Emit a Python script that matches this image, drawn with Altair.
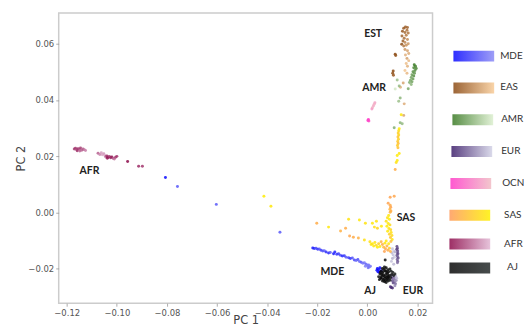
import altair as alt
import pandas as pd

# ---- data (x = PC 1, y = PC 2, s = shade within population 0=dark..1=light) ----
MDE = [(-0.0806, 0.0124, 0.0), (-0.0758, 0.0092, 0.6), (-0.0603, 0.0028, 0.6), (-0.0349, -0.0071, 0.6),
       (-0.0218, -0.0127, 0.1), (-0.0212, -0.0129, 0.2), (-0.0205, -0.0128, 0.5), (-0.0198, -0.0132, 0.3),
       (-0.0192, -0.0131, 0.6), (-0.0185, -0.0135, 0.4), (-0.0178, -0.0138, 0.5), (-0.0172, -0.0137, 0.7),
       (-0.0165, -0.0142, 0.3), (-0.0155, -0.0145, 0.2), (-0.0148, -0.0143, 0.6), (-0.0135, -0.0148, 0.1),
       (-0.0130, -0.0142, 0.2), (-0.0122, -0.0150, 0.3), (-0.0115, -0.0148, 0.4), (-0.0108, -0.0153, 0.5),
       (-0.0100, -0.0156, 0.2), (-0.0092, -0.0155, 0.35), (-0.0085, -0.0160, 0.6), (-0.0075, -0.0162, 0.4),
       (-0.0068, -0.0165, 0.3), (-0.0060, -0.0163, 0.55), (-0.0052, -0.0170, 0.45), (-0.0045, -0.0172, 0.7),
       (-0.0038, -0.0168, 0.5), (-0.0032, -0.0175, 0.75), (-0.0025, -0.0178, 0.6), (-0.0018, -0.0182, 0.8),
       (-0.0012, -0.0180, 0.85), (-0.0005, -0.0185, 0.7), (0.0000, -0.0190, 0.9), (0.0005, -0.0188, 0.8),
       (0.0008, -0.0195, 0.95), (0.0012, -0.0192, 0.85), (-0.0008, -0.0192, 0.9), (0.0003, -0.0198, 0.75),
       (0.0040, -0.0200, 0.0), (0.0045, -0.0205, 0.05), (0.0050, -0.0198, 0.0), (0.0042, -0.0212, 0.1),
       (0.0055, -0.0208, 0.05), (0.0038, -0.0207, 0.0), (0.0047, -0.0214, 0.05)]

EAS = [(0.0145, 0.0655, 0.1), (0.0152, 0.0660, 0.15), (0.0160, 0.0658, 0.2), (0.0140, 0.0645, 0.1),
       (0.0150, 0.0640, 0.25), (0.0158, 0.0648, 0.3), (0.0163, 0.0638, 0.35), (0.0138, 0.0628, 0.2),
       (0.0147, 0.0620, 0.3), (0.0155, 0.0630, 0.4), (0.0142, 0.0610, 0.15), (0.0150, 0.0605, 0.45),
       (0.0160, 0.0615, 0.5), (0.0137, 0.0598, 0.05), (0.0145, 0.0592, 0.35), (0.0155, 0.0595, 0.55),
       (0.0163, 0.0600, 0.6), (0.0150, 0.0580, 0.6), (0.0160, 0.0575, 0.7), (0.0165, 0.0565, 0.75),
       (0.0152, 0.0560, 0.8), (0.0158, 0.0548, 0.65), (0.0165, 0.0540, 0.85), (0.0155, 0.0530, 0.9),
       (0.0160, 0.0520, 0.8), (0.0150, 0.0505, 0.95), (0.0158, 0.0495, 0.85),
       (0.0111, 0.0563, 0.0), (0.0113, 0.0558, 0.05), (0.0103, 0.0503, 0.0), (0.0101, 0.0495, 0.05),
       (0.0104, 0.0488, 0.1), (0.0143, 0.0460, 0.7), (0.0132, 0.0445, 0.8), (0.0147, 0.0386, 0.75),
       (0.0145, 0.0345, 0.7)]

AMR = [(0.0187, 0.0525, 0.0), (0.0192, 0.0520, 0.05), (0.0185, 0.0515, 0.1), (0.0195, 0.0512, 0.1),
       (0.0190, 0.0505, 0.15), (0.0182, 0.0500, 0.2), (0.0188, 0.0495, 0.25), (0.0178, 0.0490, 0.3),
       (0.0185, 0.0485, 0.2), (0.0175, 0.0480, 0.35), (0.0182, 0.0475, 0.3), (0.0172, 0.0470, 0.4),
       (0.0178, 0.0465, 0.35), (0.0168, 0.0462, 0.45), (0.0175, 0.0455, 0.5), (0.0163, 0.0440, 0.4),
       (0.0119, 0.0471, 0.6), (0.0127, 0.0450, 0.55), (0.0131, 0.0407, 0.5), (0.0111, 0.0439, 0.95),
       (0.0107, 0.0301, 0.45), (0.0131, 0.0319, 0.5), (0.0139, 0.0315, 0.55), (0.0125, 0.0395, 0.6)]

EUR = [(0.0118, -0.0122, 0.2), (0.0120, -0.0128, 0.3), (0.0117, -0.0133, 0.15), (0.0121, -0.0138, 0.25),
       (0.0119, -0.0143, 0.35), (0.0122, -0.0148, 0.2), (0.0118, -0.0153, 0.3), (0.0120, -0.0158, 0.4),
       (0.0123, -0.0163, 0.25), (0.0119, -0.0168, 0.35), (0.0121, -0.0175, 0.3), (0.0120, -0.0180, 0.45),
       (0.0100, -0.0130, 0.9), (0.0105, -0.0138, 0.95), (0.0098, -0.0145, 0.85), (0.0103, -0.0152, 0.9),
       (0.0108, -0.0160, 0.95), (0.0100, -0.0165, 0.8), (0.0096, -0.0175, 0.9), (0.0105, -0.0185, 0.85),
       (0.0110, -0.0142, 0.8),
       (0.0095, -0.0225, 0.5), (0.0102, -0.0228, 0.6), (0.0108, -0.0232, 0.4), (0.0098, -0.0235, 0.3),
       (0.0105, -0.0240, 0.45), (0.0112, -0.0237, 0.55), (0.0100, -0.0245, 0.35), (0.0108, -0.0248, 0.5),
       (0.0115, -0.0243, 0.6), (0.0103, -0.0252, 0.25), (0.0112, -0.0255, 0.4), (0.0095, -0.0268, 0.0),
       (0.0100, -0.0270, 0.05), (0.0092, -0.0265, 0.1), (0.0110, -0.0262, 0.6), (0.0113, -0.0228, 0.85),
       (0.0117, -0.0235, 0.9)]

OCN = [(0.0030, 0.0390, 0.8), (0.0027, 0.0385, 0.9), (0.0024, 0.0378, 0.85), (0.0020, 0.0372, 0.95),
       (0.0018, 0.0368, 0.75), (0.0004, 0.0330, 0.0), (0.0002, 0.0327, 0.05), (0.0006, 0.0325, 0.1)]

SAS = [(0.0135, 0.0347, 0.9), (0.0127, 0.0297, 0.95), (0.0125, 0.0290, 0.8), (0.0123, 0.0282, 0.6),
       (0.0125, 0.0275, 0.7), (0.0122, 0.0268, 0.5), (0.0124, 0.0260, 0.65), (0.0121, 0.0252, 0.55),
       (0.0123, 0.0245, 0.4), (0.0120, 0.0238, 0.6), (0.0122, 0.0230, 0.45), (0.0127, 0.0209, 0.9),
       (0.0119, 0.0202, 0.95), (0.0119, 0.0184, 0.9), (0.0115, 0.0177, 0.85), (0.0111, 0.0152, 0.2),
       (0.0091, 0.0053, 0.1), (0.0107, 0.0057, 0.15), (0.0083, 0.0032, 0.1), (0.0091, 0.0025, 0.2),
       (0.0093, 0.0018, 0.1), (0.0090, 0.0011, 0.3), (0.0094, 0.0004, 0.2), (0.0091, 0.0000, 0.25),
       (0.0085, -0.0012, 0.9), (0.0080, -0.0020, 0.85), (0.0088, -0.0025, 0.95), (0.0075, -0.0032, 0.8),
       (0.0083, -0.0040, 0.9), (0.0090, -0.0045, 0.75), (0.0078, -0.0050, 0.95), (0.0086, -0.0058, 0.85),
       (0.0093, -0.0062, 0.7), (0.0081, -0.0068, 0.9), (0.0095, -0.0072, 0.8), (0.0088, -0.0078, 0.6),
       (0.0098, -0.0083, 0.75), (0.0092, -0.0090, 0.5), (0.0099, -0.0097, 0.85), (0.0094, -0.0104, 0.4),
       (-0.0202, -0.0039, 0.2), (-0.0155, -0.0053, 0.9), (-0.0107, -0.0067, 0.25), (-0.0087, -0.0057, 0.2),
       (-0.0075, -0.0025, 0.85), (-0.0071, -0.0085, 0.15), (-0.0056, -0.0089, 0.2), (-0.0036, -0.0092, 0.25),
       (-0.0012, -0.0099, 0.8), (-0.0032, -0.0028, 0.9), (-0.0008, -0.0039, 0.85), (0.0020, -0.0039, 0.9),
       (0.0036, -0.0032, 0.85), (0.0028, -0.0053, 0.8), (0.0040, -0.0057, 0.7), (0.0056, -0.0050, 0.9),
       (0.0010, -0.0105, 0.8), (0.0020, -0.0112, 0.9), (0.0030, -0.0108, 0.85), (0.0035, -0.0118, 0.75),
       (0.0045, -0.0112, 0.6), (0.0050, -0.0122, 0.9), (0.0055, -0.0105, 0.3), (0.0060, -0.0115, 0.2),
       (0.0065, -0.0125, 0.4), (0.0070, -0.0110, 0.85), (0.0072, -0.0130, 0.15), (0.0078, -0.0120, 0.3),
       (0.0082, -0.0135, 0.2), (0.0085, -0.0112, 0.9), (0.0088, -0.0128, 0.5), (0.0092, -0.0140, 0.25),
       (0.0040, -0.0125, 0.95), (0.0025, -0.0120, 0.9), (0.0015, -0.0115, 0.85), (0.0068, -0.0140, 0.1),
       (0.0075, -0.0102, 0.9), (-0.0413, 0.0057, 0.95), (-0.0385, 0.0021, 0.9)]

AFR = [(-0.1170, 0.0225, 0.3), (-0.1165, 0.0228, 0.25), (-0.1160, 0.0222, 0.35), (-0.1155, 0.0226, 0.2),
       (-0.1150, 0.0224, 0.4), (-0.1145, 0.0229, 0.3), (-0.1140, 0.0221, 0.5), (-0.1135, 0.0225, 0.45),
       (-0.1130, 0.0223, 0.6), (-0.1125, 0.0220, 0.7), (-0.1158, 0.0219, 0.3), (-0.1148, 0.0218, 0.55),
       (-0.1075, 0.0210, 0.5), (-0.1068, 0.0206, 0.7), (-0.1062, 0.0212, 0.85), (-0.1058, 0.0205, 0.9),
       (-0.1052, 0.0208, 0.8), (-0.1048, 0.0202, 0.95), (-0.1045, 0.0198, 0.6), (-0.1040, 0.0200, 0.2),
       (-0.1035, 0.0196, 0.1), (-0.1030, 0.0199, 0.3), (-0.1025, 0.0194, 0.15), (-0.1020, 0.0197, 0.05),
       (-0.1015, 0.0192, 0.4), (-0.1010, 0.0190, 0.6), (-0.1005, 0.0196, 0.3), (-0.1000, 0.0199, 0.25),
       (-0.1038, 0.0192, 0.1), (-0.0957, 0.0181, 0.0), (-0.0913, 0.0164, 0.2), (-0.0898, 0.0164, 0.25)]

AJ = [(0.0071, -0.0170, 0.2), (0.0060, -0.0200, 0.1), (0.0068, -0.0195, 0.3), (0.0075, -0.0198, 0.0),
      (0.0082, -0.0205, 0.2), (0.0090, -0.0202, 0.4), (0.0055, -0.0210, 0.1), (0.0063, -0.0212, 0.0),
      (0.0070, -0.0208, 0.3), (0.0078, -0.0215, 0.1), (0.0085, -0.0212, 0.0), (0.0095, -0.0210, 0.5),
      (0.0102, -0.0215, 0.6), (0.0050, -0.0220, 0.2), (0.0058, -0.0222, 0.0), (0.0065, -0.0225, 0.1),
      (0.0073, -0.0222, 0.0), (0.0080, -0.0228, 0.2), (0.0088, -0.0225, 0.1), (0.0097, -0.0222, 0.3),
      (0.0105, -0.0225, 0.5), (0.0045, -0.0230, 0.3), (0.0055, -0.0233, 0.0), (0.0062, -0.0238, 0.1),
      (0.0070, -0.0235, 0.0), (0.0078, -0.0240, 0.2), (0.0086, -0.0236, 0.1), (0.0093, -0.0232, 0.4),
      (0.0060, -0.0245, 0.2), (0.0068, -0.0248, 0.1), (0.0075, -0.0250, 0.0), (0.0083, -0.0245, 0.3),
      (0.0048, -0.0240, 0.2), (0.0090, -0.0242, 0.5), (0.0110, -0.0220, 0.6), (0.0052, -0.0215, 0.1),
      (0.0066, -0.0203, 0.0), (0.0074, -0.0210, 0.1), (0.0081, -0.0219, 0.0), (0.0060, -0.0218, 0.2),
      (0.0068, -0.0229, 0.0), (0.0076, -0.0232, 0.1), (0.0084, -0.0230, 0.0), (0.0057, -0.0228, 0.1),
      (0.0065, -0.0242, 0.2), (0.0072, -0.0243, 0.0), (0.0080, -0.0236, 0.1), (0.0053, -0.0236, 0.0)]

GROUPS = ["MDE", "EAS", "AMR", "EUR", "OCN", "SAS", "AFR", "AJ"]
GROUP_DATA = [MDE, EAS, AMR, EUR, OCN, SAS, AFR, AJ]
DARK = ["#0a0aff", "#8b4a14", "#3b7a25", "#3d1f6b", "#ff3cc8", "#ff9a5a", "#8c0a4a", "#0a0a0a"]
LIGHT = ["#8c8cf5", "#f8cc99", "#dcefcf", "#d3d3e6", "#f0bcc4", "#fff000", "#e2b8d4", "#262c2c"]

LABEL_TEXT = ["EST", "AMR", "AFR", "SAS", "MDE", "AJ", "EUR"]
LABEL_X = [0.0023, 0.0027, -0.1109, 0.0154, -0.0140, 0.0011, 0.0182]
LABEL_Y = [0.0635, 0.0444, 0.0147, -0.0020, -0.0214, -0.0281, -0.0281]

X_TICKS = [-0.12, -0.10, -0.08, -0.06, -0.04, -0.02, 0.00, 0.02]
Y_TICKS = [-0.02, 0.00, 0.02, 0.04, 0.06]

# ---- layout / style ----
LEG_X = [397, 397, 396, 395, 394, 393, 393, 393]
LEG_Y = [38, 70, 102, 134, 166, 198, 227, 251]
LEG_PAD = [6, 6, 8, 9, 11, 14, 14, 17]

minus = "replace(format(datum.value, '.2f'), '-', '\u2212')"
axis_style = dict(grid=False, domain=False, tickSize=3, tickColor="#999999", tickWidth=0.8,
                  labelFont="DejaVu Sans", labelFontSize=8.5, labelColor="#555555", labelPadding=2,
                  titleFont="DejaVu Sans", titleFontSize=11.5, titleFontWeight="normal",
                  titleColor="#444444", labelExpr=minus)
x_enc = alt.X("x:Q", scale=alt.Scale(domain=[-0.1232, 0.026], nice=False, zero=False),
              axis=alt.Axis(values=X_TICKS, title="PC 1", titleY=20, titleBaseline="alphabetic",
                            **axis_style))
y_enc = alt.Y("y:Q", scale=alt.Scale(domain=[-0.0324, 0.071], nice=False, zero=False),
              axis=alt.Axis(values=Y_TICKS, title="PC 2", titlePadding=1, **axis_style))

layers = []
for i, g in enumerate(GROUPS):
    df = pd.DataFrame(GROUP_DATA[i], columns=["x", "y", "s"])
    layer = alt.Chart(df).mark_circle(size=9, opacity=0.85).encode(
        x=x_enc,
        y=y_enc,
        color=alt.Color("s:Q",
                        scale=alt.Scale(domain=[0, 1], range=[DARK[i], LIGHT[i]], interpolate="rgb"),
                        legend=alt.Legend(title=g, orient="none", legendX=LEG_X[i], legendY=LEG_Y[i],
                                          direction="horizontal", gradientLength=41,
                                          gradientThickness=11, gradientStrokeWidth=0,
                                          labelExpr="''", labelOpacity=0, labelFontSize=1,
                                          titleOrient="right", titlePadding=LEG_PAD[i],
                                          titleAnchor="start", titleBaseline="top",
                                          titleFont="Lato", titleFontSize=10, titleFontWeight="normal",
                                          titleColor="#333333", padding=0)),
    )
    layers.append(layer)

labels_df = pd.DataFrame({"x": LABEL_X, "y": LABEL_Y, "t": LABEL_TEXT})
text = alt.Chart(labels_df).mark_text(font="Lato", fontSize=10.5, fontWeight="bold",
                                      color="#222222").encode(x="x:Q", y="y:Q", text="t:N")

chart = alt.layer(*layers, text).resolve_scale(color="independent").properties(
    width=376, height=292,
    autosize=alt.AutoSizeParams(type="none"),
    padding={"left": 51, "top": 4, "right": 92, "bottom": 23},
).configure_view(stroke="#cccccc", strokeWidth=1.5)

chart.save("out.html", embed_options={"renderer": "svg", "actions": False})
